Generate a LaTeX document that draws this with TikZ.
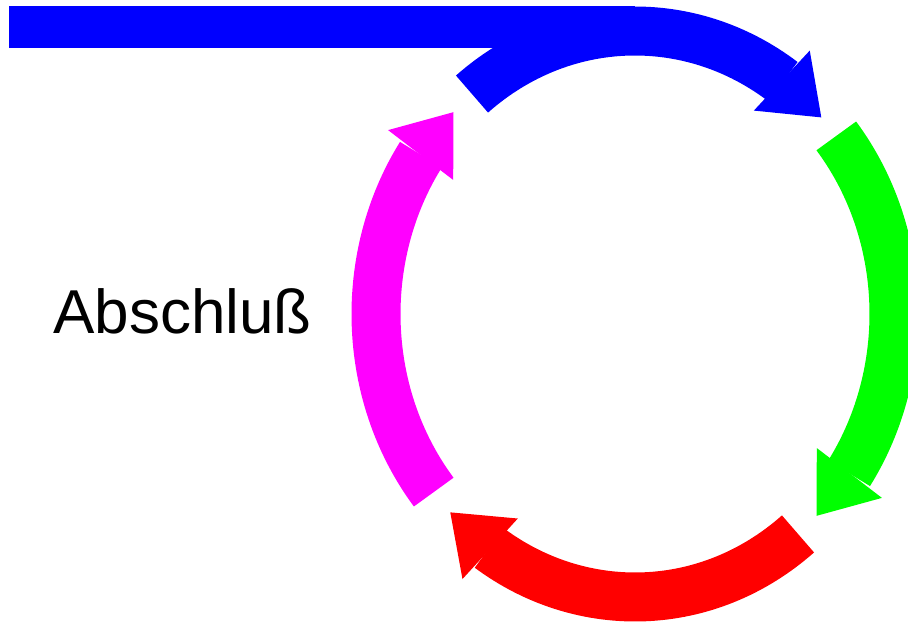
\documentclass[tikz,border=0pt]{standalone}
\usepackage{fontspec}
\setmainfont{Liberation Sans}
\usetikzlibrary{arrows.meta}
\usetikzlibrary{bending}
\definecolor{ringmagenta}{RGB}{255,0,255}
\definecolor{ringgreen}{RGB}{0,255,0}

\begin{document}
\begin{tikzpicture}[x=1pt, y=1pt,
    ring arrow/.style={line width=49pt, -{Triangle[width=82pt, length=54pt, line width=0pt]}}]
      \useasboundingbox (0,0) rectangle (908,624);
      \coordinate (ring) at (635,310);
      \node[anchor=base west, inner sep=0pt, font=\fontsize{62}{70}\selectfont] (abschluss) at (53,290) {Abschluß};
      \fill[blue] (9,576) rectangle (635,618);
      \draw[ring arrow, blue]        (ring) ++(129:259pt and 283pt)  arc[start angle=129,  end angle=44,     x radius=259pt, y radius=283pt];
      \draw[ring arrow, ringgreen]   (ring) ++(39:259pt and 283pt)   arc[start angle=39,   end angle=-45.5,  x radius=259pt, y radius=283pt];
      \draw[ring arrow, red]         (ring) ++(-51:259pt and 283pt)  arc[start angle=-51,  end angle=-135.5, x radius=259pt, y radius=283pt];
      \draw[ring arrow, ringmagenta] (ring) ++(-141:259pt and 283pt) arc[start angle=-141, end angle=-225.5, x radius=259pt, y radius=283pt];
\end{tikzpicture}
\end{document}
